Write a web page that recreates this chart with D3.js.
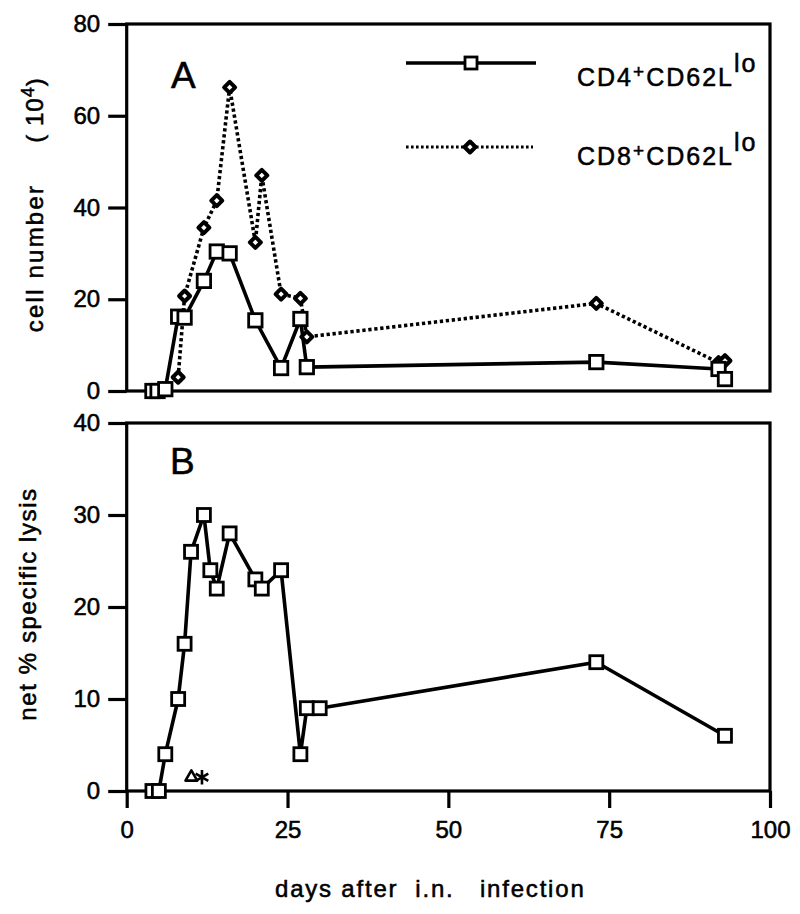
<!DOCTYPE html>
<html>
<head>
<meta charset="utf-8">
<script src="https://cdn.jsdelivr.net/npm/d3@7"></script>
<style>
  body { margin: 0; background: #fff; }
  svg text { font-family: "Liberation Sans", Arial, sans-serif; fill: #000; stroke: #000; stroke-width: 0.55; }
</style>
</head>
<body>
<div id="container"></div>
<script>

// panel A - cell number (10^4)
let cd4Days  = [4, 4.8, 6, 8, 9, 12, 14, 16, 20, 24, 27, 28, 73, 92, 93];
let cd4Cells = [0, 0, 0.4, 16.2, 16, 24, 30.4, 30, 15.4, 5, 15.7, 5.2, 6.3, 4.8, 2.6];
let cd8Days  = [8, 9, 12, 14, 16, 20, 21, 24, 27, 28, 73, 92, 93];
let cd8Cells = [3, 20.7, 35.6, 41.5, 66.2, 32.4, 47, 21.1, 20.2, 11.8, 19.1, 6.2, 6.6];

// panel B - net % specific lysis
let lysisDays = [4, 5, 6, 8, 9, 10, 12, 13, 14, 16, 20, 21, 24, 27, 28, 30, 73, 93];
let lysisPct  = [0, 0, 4, 10, 16, 26, 30, 24, 22, 28, 23, 22, 24, 4, 9, 9, 14, 6];

// the little triangle + asterisk near the baseline
let symbolDays = [10.05, 11.7];
let symbolPct  = [1.5, 1.5];

let xTicks  = [0, 25, 50, 75, 100];
let yTicksA = [0, 20, 40, 60, 80];
let yTicksB = [0, 10, 20, 30, 40];

let w = 800;
let h = 914;

let viz = d3.select("#container")
  .append("svg")
    .attr("width", w)
    .attr("height", h)
;

let xScale = d3.scaleLinear().domain([0, 100]).range([126.7, 770]);
let yA = d3.scaleLinear().domain([0, 80]).range([391, 24]);
let yB = d3.scaleLinear().domain([0, 40]).range([791, 423]);

// frames
function frame(y){
  viz.append("rect")
    .attr("x", xScale(0))
    .attr("y", y.range()[1])
    .attr("width", xScale(100) - xScale(0))
    .attr("height", y.range()[0] - y.range()[1])
    .attr("fill", "none")
    .attr("stroke", "#000")
    .attr("stroke-width", 3.2);
}
frame(yA);
frame(yB);

// y axes
function leftAxis(y, ticks){
  let g = viz.append("g").attr("class", "yaxis")
    .attr("transform", "translate(" + xScale(0) + ",0)");
  g.call(d3.axisLeft(y).tickValues(ticks).tickSize(18.5).tickPadding(8));
  g.attr("font-family", null).attr("font-size", null);
  g.select(".domain").remove();
  g.selectAll("line").attr("stroke-width", 3.2);
  g.selectAll("text").attr("font-size", 24);
}
leftAxis(yA, yTicksA);
leftAxis(yB, yTicksB);

// x axis (only on bottom panel)
let xAxisGroup = viz.append("g").attr("class", "xaxis")
  .attr("transform", "translate(0," + yB(0) + ")");
xAxisGroup.call(d3.axisBottom(xScale).tickValues(xTicks).tickSize(17).tickPadding(13));
xAxisGroup.attr("font-family", null).attr("font-size", null);
xAxisGroup.select(".domain").remove();
xAxisGroup.selectAll("line").attr("stroke-width", 3.2);
xAxisGroup.selectAll("text").attr("font-size", 24);

// lines
let lineA = d3.line().x(d => xScale(d[0])).y(d => yA(d[1]));
let lineB = d3.line().x(d => xScale(d[0])).y(d => yB(d[1]));

let cd4 = d3.zip(cd4Days, cd4Cells);
let cd8 = d3.zip(cd8Days, cd8Cells);
let lysis = d3.zip(lysisDays, lysisPct);

let graphGroup = viz.append("g").classed("graphGroup", true);

graphGroup.append("path").datum(cd8)
  .attr("d", lineA)
  .attr("fill", "none").attr("stroke", "#000")
  .attr("stroke-width", 3.6).attr("stroke-dasharray", "3.3,2.7");

graphGroup.append("path").datum(cd4)
  .attr("d", lineA)
  .attr("fill", "none").attr("stroke", "#000")
  .attr("stroke-width", 3.6).attr("stroke-linejoin", "round");

let diamond = "M0,-5.5L5.5,0L0,5.5L-5.5,0Z";

graphGroup.selectAll(".cd8pt").data(cd8).enter()
  .append("path").attr("class", "cd8pt")
  .attr("d", diamond)
  .attr("transform", d => "translate(" + xScale(d[0]) + "," + yA(d[1]) + ")")
  .attr("fill", "#fff").attr("stroke", "#000").attr("stroke-width", 4)
  .attr("stroke-linejoin", "round");

graphGroup.selectAll(".cd4pt").data(cd4).enter()
  .append("rect").attr("class", "cd4pt")
  .attr("x", d => xScale(d[0]) - 6.7)
  .attr("y", d => yA(d[1]) - 6.7)
  .attr("width", 13.4).attr("height", 13.4)
  .attr("fill", "#fff").attr("stroke", "#000").attr("stroke-width", 2.8);

graphGroup.append("path").datum(lysis)
  .attr("d", lineB)
  .attr("fill", "none").attr("stroke", "#000")
  .attr("stroke-width", 3.6).attr("stroke-linejoin", "round");

graphGroup.selectAll(".lyspt").data(lysis).enter()
  .append("rect").attr("class", "lyspt")
  .attr("x", d => xScale(d[0]) - 6.5)
  .attr("y", d => yB(d[1]) - 6.5)
  .attr("width", 13).attr("height", 13)
  .attr("fill", "#fff").attr("stroke", "#000").attr("stroke-width", 2.8);

// triangle + asterisk
let symbolTypes = [d3.symbolTriangle, d3.symbolAsterisk];
let symbolSizes = [60, 150];
graphGroup.selectAll(".mark").data(d3.zip(symbolDays, symbolPct)).enter()
  .append("path").attr("class", "mark")
  .attr("d", (d, i) => d3.symbol(symbolTypes[i], symbolSizes[i])())
  .attr("transform", d => "translate(" + xScale(d[0]) + "," + yB(d[1]) + ")")
  .attr("fill", "none").attr("stroke", "#000").attr("stroke-width", 2.6)
  .attr("stroke-linejoin", "round");

// legend
let legend = viz.append("g").attr("class", "legend");
legend.append("line")
  .attr("x1", 406).attr("x2", 536).attr("y1", 63).attr("y2", 63)
  .attr("stroke", "#000").attr("stroke-width", 3.4);
legend.append("rect")
  .attr("x", 471 - 6).attr("y", 63 - 6).attr("width", 12).attr("height", 12)
  .attr("fill", "#fff").attr("stroke", "#000").attr("stroke-width", 2.8);
legend.append("line")
  .attr("x1", 406).attr("x2", 533).attr("y1", 147).attr("y2", 147)
  .attr("stroke", "#000").attr("stroke-width", 2.8).attr("stroke-dasharray", "2.6,2.4");
legend.append("path")
  .attr("d", diamond)
  .attr("transform", "translate(470,147)")
  .attr("fill", "#fff").attr("stroke", "#000").attr("stroke-width", 4)
  .attr("stroke-linejoin", "round");

function legendText(y, num){
  let t = legend.append("text").attr("x", 577).attr("y", y)
    .attr("font-size", 25).attr("letter-spacing", 2);
  t.append("tspan").text("CD" + num);
  t.append("tspan").attr("font-size", 19).attr("dy", -8).text("+");
  t.append("tspan").attr("dy", 8).text("CD62L");
  t.append("tspan").attr("dy", -14).text("lo");
}
legendText(86, 4);
legendText(165, 8);

// panel letters
viz.append("text").attr("x", 171).attr("y", 88).attr("font-size", 37).text("A");
viz.append("text").attr("x", 170).attr("y", 474).attr("font-size", 37).text("B");

// axis titles
viz.append("text")
  .attr("transform", "translate(43,258) rotate(-90)")
  .attr("text-anchor", "middle").attr("font-size", 24).attr("letter-spacing", 2.2)
  .text("cell number");
let tenFour = viz.append("text")
  .attr("transform", "translate(43,110) rotate(-90)")
  .attr("text-anchor", "middle").attr("font-size", 24).attr("letter-spacing", 1)
  .style("white-space", "pre");
tenFour.append("tspan").text("( 10");
tenFour.append("tspan").attr("font-size", 18).attr("dy", -9).text("4");
tenFour.append("tspan").attr("dy", 9).text(")");

viz.append("text")
  .attr("transform", "translate(36,604) rotate(-90)")
  .attr("text-anchor", "middle").attr("font-size", 24).attr("letter-spacing", 1.6)
  .text("net % specific lysis");

viz.append("text")
  .attr("x", 275).attr("y", 897)
  .attr("font-size", 24).attr("letter-spacing", 1.8)
  .style("white-space", "pre")
  .text("days after  i.n.   infection");

</script>
</body>
</html>
